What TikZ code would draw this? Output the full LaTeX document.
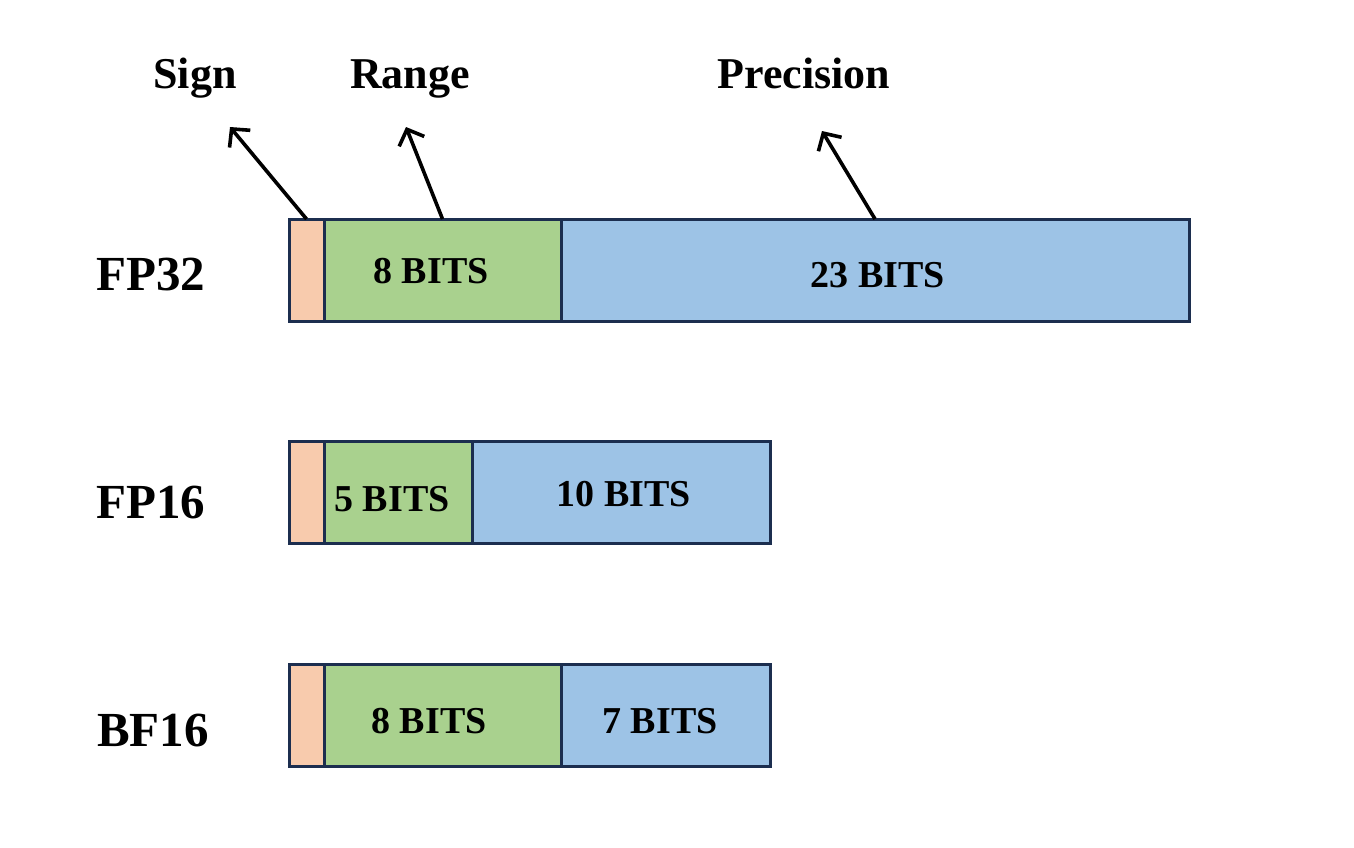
\documentclass[tikz,border=0pt]{standalone}
\usepackage{fontspec}
\setmainfont{Liberation Serif}
\usetikzlibrary{arrows.meta}
\definecolor{signc}{HTML}{F8CBAD}
\definecolor{expc}{HTML}{A9D18E}
\definecolor{manc}{HTML}{9DC3E6}
\definecolor{edgec}{HTML}{1C2E4F}
\begin{document}
\begin{tikzpicture}[x=1pt,y=-1pt,
  seg/.style={draw=edgec, line width=3pt, anchor=north west, inner sep=0pt, outer sep=0pt, minimum height=102pt},
  bits/.style={font=\fontsize{38}{40}\selectfont\bfseries, inner sep=0pt, anchor=base},
  fmt/.style={font=\fontsize{49}{52}\selectfont\bfseries, inner sep=0pt, anchor=base},
  lab/.style={font=\fontsize{44}{46}\selectfont\bfseries, inner sep=0pt, anchor=base},
  pointer/.style={line width=3.6pt, -{Straight Barb[length=13pt,width=27pt,line width=3.6pt]}}]
\useasboundingbox (0,0) rectangle (1354,847);
% FP32
\node[seg, fill=signc, minimum width=35pt] (s32) at (289,219) {};
\node[seg, fill=expc, minimum width=237pt] (e32) at (324,219) {};
\node[seg, fill=manc, minimum width=628pt] (m32) at (561,219) {};
% FP16
\node[seg, fill=signc, minimum width=35pt] (s16) at (289,441) {};
\node[seg, fill=expc, minimum width=148pt] (e16) at (324,441) {};
\node[seg, fill=manc, minimum width=298pt] (m16) at (472,441) {};
% BF16
\node[seg, fill=signc, minimum width=35pt] (sb) at (289,664) {};
\node[seg, fill=expc, minimum width=237pt] (eb) at (324,664) {};
\node[seg, fill=manc, minimum width=209pt] (mb) at (561,664) {};
% bit labels
\node[bits] (t1) at (431,283) {8 BITS};
\node[bits] (t2) at (878,287.5) {23 BITS};
\node[bits] (t3) at (392,511) {5 BITS};
\node[bits] (t4) at (624,506.5) {10 BITS};
\node[bits] (t5) at (429,733) {8 BITS};
\node[bits] (t6) at (660,733) {7 BITS};
% format labels
\node[fmt] (f1) at (151,290) {FP32};
\node[fmt] (f2) at (151,518) {FP16};
\node[fmt] (f3) at (153,746) {BF16};
% top labels
\node[lab] (sign) at (195,88) {Sign};
\node[lab] (range) at (410,88) {Range};
\node[lab] (prec) at (804,88) {Precision};
% arrows
\coordinate (as) at (230,127);
\coordinate (ar) at (406,127);
\coordinate (ap) at (822,131);
\draw[pointer] (s32.north) -- (as);
\draw[pointer] (e32.north) -- (ar);
\draw[pointer] (m32.north) -- (ap);
\end{tikzpicture}
\end{document}
